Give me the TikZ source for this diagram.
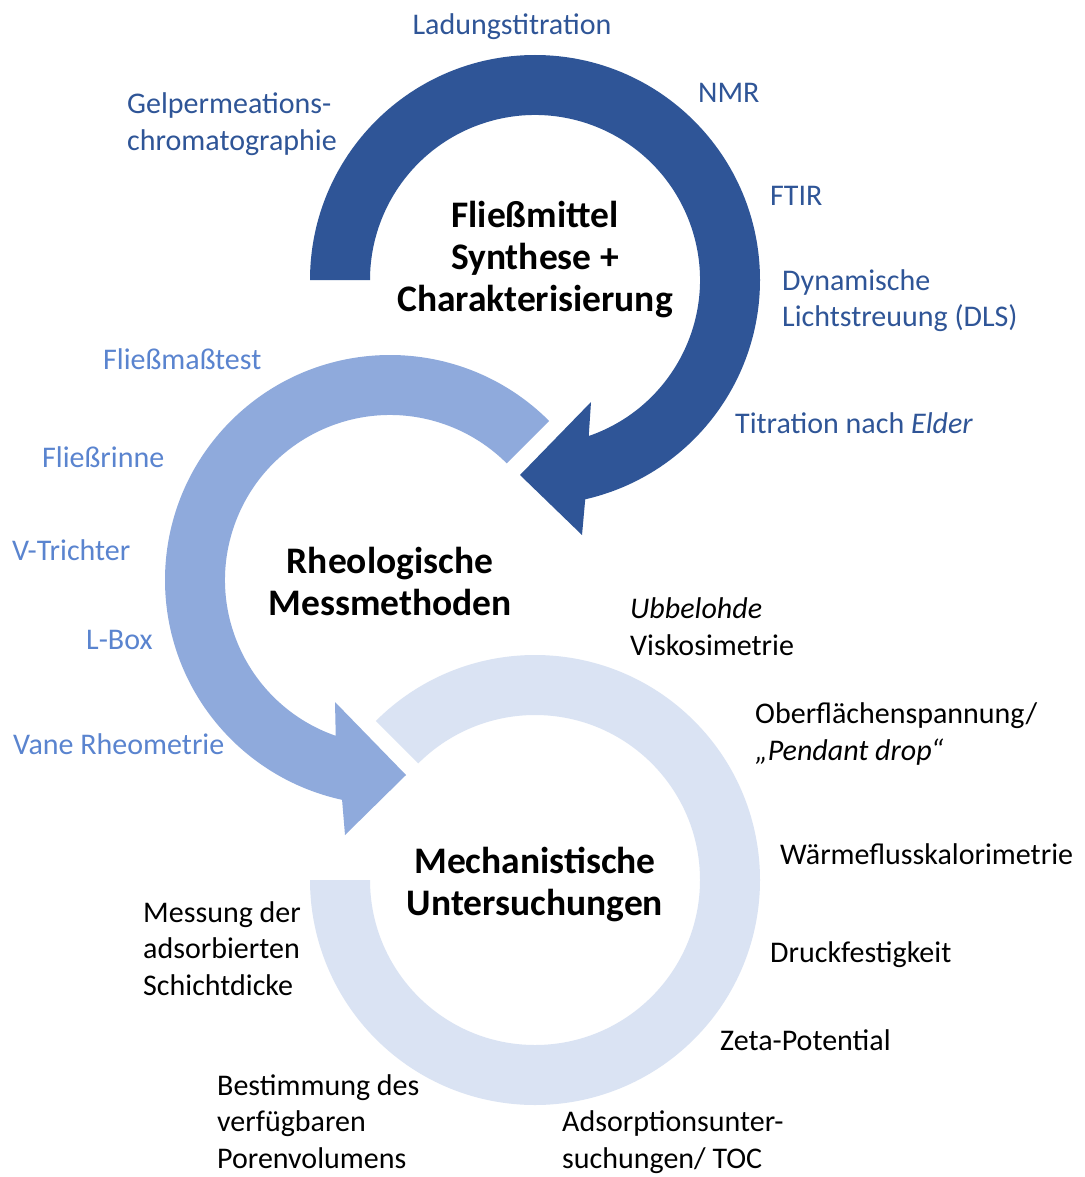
\documentclass[tikz,border=0pt]{standalone}
\usepackage{fontspec}
\setmainfont{Carlito}
\usetikzlibrary{calc}
\definecolor{cdark}{HTML}{2F5597}
\definecolor{cmed}{HTML}{8FAADC}
\definecolor{clight}{HTML}{DAE3F3}
\definecolor{tmed}{HTML}{5A84CF}
\tikzset{
  lbl/.style={font=\fontsize{30}{36.5}\selectfont, inner sep=0pt, align=left, anchor=base west},
  darklbl/.style={lbl, text=cdark},
  medlbl/.style={lbl, text=tmed},
  blklbl/.style={lbl, text=black},
  title/.style={font=\fontsize{37.5}{42}\selectfont\bfseries, inner sep=0pt, align=center, anchor=base},
}
\begin{document}
\begin{tikzpicture}[x=1pt,y=-1pt]
\useasboundingbox (0,0) rectangle (1084,1177);
\fill[white] (0,0) rectangle (1084,1177);
% centres
\coordinate (C1) at (535,280);
\coordinate (C2) at (390,580);
\coordinate (C3) at (535,880);
% light ring (no arrowhead)
\fill[clight] ($(C3)+(-135:225)$) arc[start angle=-135, end angle=180, radius=225]
  -- ($(C3)+(180:165)$) arc[start angle=180, end angle=-135, radius=165] -- cycle;
% medium circular arrow
\fill[cmed] ($(C2)+(-45:225)$) arc[start angle=-45, end angle=-257.7, radius=225]
  -- (345,835) -- (406,775) -- (335,702)
  -- ($(C2)+(-250.8:165)$) arc[start angle=-250.8, end angle=-45, radius=165] -- cycle;
% dark circular arrow
\fill[cdark] ($(C1)+(-180:225)$) arc[start angle=-180, end angle=77.1, radius=225]
  -- (582,535) -- (520,475) -- (591,402)
  -- ($(C1)+(71:165)$) arc[start angle=71, end angle=-180, radius=165] -- cycle;

% titles (y = baseline of last line)
\node[title] (t1) at (535,311) {Fließmittel\\Synthese +\\Charakterisierung};
\node[title] (t2) at (390,615) {Rheologische\\Messmethoden};
\node[title] (t3) at (535,915) {Mechanistische\\Untersuchungen};

% dark blue labels
\node[darklbl, anchor=base] (d1) at (512,35) {Ladungstitration};
\node[darklbl] (d2) at (698,103) {NMR};
\node[darklbl] (d3) at (770,205) {FTIR};
\node[darklbl] (d4) at (782,326.5) {Dynamische\\Lichtstreuung (DLS)};
\node[darklbl] (d5) at (735,433) {Titration nach \textit{Elder}};
\node[darklbl] (d6) at (127,150.5) {Gelpermeations-\\chromatographie};

% medium blue labels
\node[medlbl] (m1) at (103,369) {Fließmaßtest};
\node[medlbl] (m2) at (42,467) {Fließrinne};
\node[medlbl] (m3) at (12,560) {V-Trichter};
\node[medlbl] (m4) at (86,649) {L-Box};
\node[medlbl] (m5) at (13,754) {Vane Rheometrie};

% black labels
\node[blklbl] (b1) at (630,655) {\textit{Ubbelohde}\\Viskosimetrie};
\node[blklbl] (b2) at (755,760) {Oberflächenspannung/\\\textit{„Pendant drop“}};
\node[blklbl] (b3) at (780,864) {Wärmeflusskalorimetrie};
\node[blklbl] (b4) at (770,962) {Druckfestigkeit};
\node[blklbl] (b5) at (720,1050) {Zeta-Potential};
\node[blklbl] (b6) at (562,1168) {Adsorptionsunter-\\suchungen/ TOC};
\node[blklbl] (b7) at (217,1168) {Bestimmung des\\verfügbaren\\Porenvolumens};
\node[blklbl] (b8) at (143,995) {Messung der\\adsorbierten\\Schichtdicke};
\end{tikzpicture}
\end{document}
